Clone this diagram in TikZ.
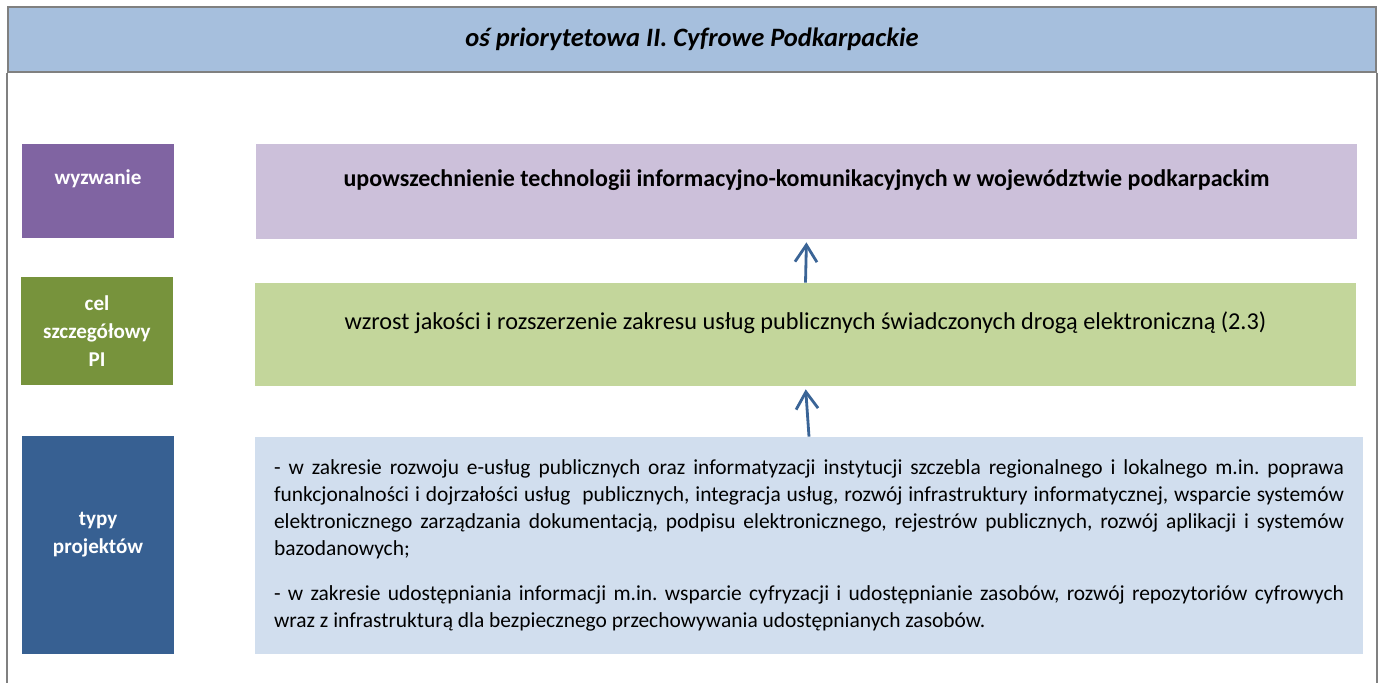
\documentclass[tikz,border=0pt]{standalone}
\usepackage{fontspec}
\setmainfont{Carlito}
\usetikzlibrary{arrows.meta,positioning}
\definecolor{frame}{RGB}{128,128,128}
\definecolor{headblue}{RGB}{166,191,221}
\definecolor{violet}{RGB}{128,100,162}
\definecolor{lilac}{RGB}{204,192,218}
\definecolor{olive}{RGB}{119,147,60}
\definecolor{lime}{RGB}{195,214,155}
\definecolor{steel}{RGB}{55,96,146}
\definecolor{pale}{RGB}{209,222,238}
\definecolor{arrowblue}{RGB}{58,100,150}
\tikzset{
  >={Straight Barb[length=3.4mm,width=4.4mm]},
  header/.style={draw=frame,line width=1.1pt,fill=headblue,minimum width=273.6mm,
    minimum height=13mm,font=\fontsize{15.1}{18}\selectfont\bfseries\itshape},
  label box/.style={fill=#1,text=white,minimum width=30.4mm,align=center,
    font=\fontsize{12}{16.1}\selectfont\bfseries},
  label box/.default=steel,
  content box/.style={fill=#1,minimum width=220.2mm,align=center,
    font=\fontsize{13.8}{16.5}\selectfont},
  content box/.default=pale,
  flow/.style={->,line width=1.6pt,draw=arrowblue,shorten >=0.6mm},
}
\begin{document}
\begin{tikzpicture}
    \useasboundingbox (0,0) rectangle (27.56,-13.64);
    \node[header] (head) at (13.84,-0.79) {oś priorytetowa II. Cyfrowe Podkarpackie};
    \draw[frame,line width=1.1pt] (head.south west) -- ++(0,-12.3);
    \draw[frame,line width=1.1pt] (head.south east) -- ++(0,-12.3);
    % left column
    \node[label box=violet,minimum height=18.8mm,text depth=5.5mm] (chal) at (1.96,-3.82) {wyzwanie};
    \node[label box=olive,minimum height=21.6mm] (goal) at (1.94,-6.62) {cel\\szczegółowy\\PI};
    \node[label box=steel,minimum height=43.6mm,text depth=5mm] (types) at (1.96,-10.90) {typy\\projektów};
    % right column
    \node[content box=lilac,minimum height=19mm,text depth=5.5mm,font=\fontsize{13.65}{16.5}\selectfont\bfseries] (chaltext) at (16.13,-3.83)
      {upowszechnienie technologii informacyjno-komunikacyjnych w województwie podkarpackim};
    \node[content box=lime,minimum height=20.6mm,text depth=5.5mm] (goaltext) at (16.11,-6.69)
      {wzrost jakości i rozszerzenie zakresu usług publicznych świadczonych drogą elektroniczną (2.3)};
    \node[content box=pale,minimum width=221.6mm,minimum height=43.4mm,text width=214mm,align=justify,
      font=\fontsize{12.2}{15.3}\selectfont] (typestext) at (16.18,-10.91)
      {\parindent=0pt\hyphenpenalty=10000\tolerance=9999\frenchspacing
       - w zakresie rozwoju e-usług publicznych oraz informatyzacji instytucji szczebla regionalnego i lokalnego m.in. poprawa\linebreak
       funkcjonalności i dojrzałości usług\ \ publicznych, integracja usług, rozwój infrastruktury informatycznej, wsparcie systemów\linebreak
       elektronicznego zarządzania dokumentacją, podpisu elektronicznego, rejestrów publicznych, rozwój aplikacji i systemów\linebreak
       bazodanowych;\par\vspace{3.8mm}
       - w zakresie udostępniania informacji m.in. wsparcie cyfryzacji i udostępnianie zasobów, rozwój repozytoriów cyfrowych\linebreak
       wraz z infrastrukturą dla bezpiecznego przechowywania udostępnianych zasobów.};
    % arrows
    \draw[flow] (goaltext.north) -- (chaltext.south);
    \draw[flow] (typestext.north) -- (goaltext.south);
  \end{tikzpicture}
\end{document}
